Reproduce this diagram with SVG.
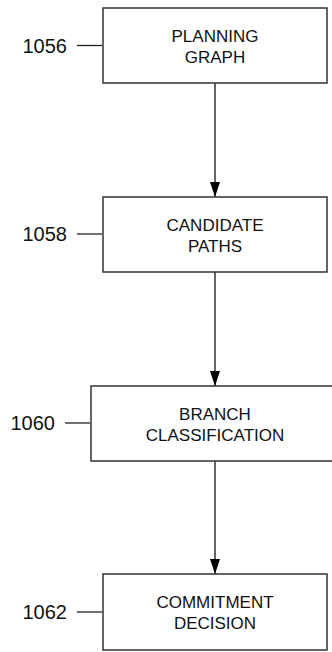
<svg xmlns="http://www.w3.org/2000/svg" width="332" height="652" viewBox="0 0 332 652">
<style>
.box{fill:#fff;stroke:#333;stroke-width:1.5}
.t{font-family:"Liberation Sans",Arial,sans-serif;font-size:17px;fill:#111;text-anchor:middle}
.lbl{font-family:"Liberation Sans",Arial,sans-serif;font-size:20px;fill:#111;text-anchor:end}
.ln{stroke:#222;stroke-width:1.3}
.con{stroke:#333;stroke-width:1.5;fill:none}
</style>
<defs>
<marker id="ah" markerWidth="15" markerHeight="10" refX="15" refY="5" orient="auto" markerUnits="userSpaceOnUse" viewBox="0 0 15 10">
<path d="M0,0 L15,5 L0,10 z" fill="#000"/>
</marker>
</defs>
<rect width="332" height="652" fill="#fff"/>
<g id="connectors">
<line class="con" x1="215" y1="83" x2="215" y2="197" marker-end="url(#ah)"/>
<line class="con" x1="215" y1="272" x2="215" y2="386" marker-end="url(#ah)"/>
<line class="con" x1="215" y1="461" x2="215" y2="574" marker-end="url(#ah)"/>
</g>
<g id="n1056">
<rect class="box" x="103" y="8" width="224" height="75"/>
<text class="t" x="215" y="41.5">PLANNING</text>
<text class="t" x="215" y="62.5">GRAPH</text>
<text class="lbl" x="67" y="53">1056</text>
<line class="ln" x1="77" y1="45.5" x2="102" y2="45.5"/>
</g>
<g id="n1058">
<rect class="box" x="103" y="197" width="224" height="75"/>
<text class="t" x="215" y="230.5">CANDIDATE</text>
<text class="t" x="215" y="251.5">PATHS</text>
<text class="lbl" x="67" y="241">1058</text>
<line class="ln" x1="77" y1="234" x2="102" y2="234"/>
</g>
<g id="n1060">
<rect class="box" x="91" y="386" width="250" height="75"/>
<text class="t" x="215" y="419.5">BRANCH</text>
<text class="t" x="215" y="440.5">CLASSIFICATION</text>
<text class="lbl" x="55" y="430">1060</text>
<line class="ln" x1="65" y1="423" x2="90" y2="423"/>
</g>
<g id="n1062">
<rect class="box" x="103" y="574" width="224" height="76"/>
<text class="t" x="215" y="607.5">COMMITMENT</text>
<text class="t" x="215" y="628.5">DECISION</text>
<text class="lbl" x="67" y="619">1062</text>
<line class="ln" x1="77" y1="612" x2="102" y2="612"/>
</g>
</svg>
